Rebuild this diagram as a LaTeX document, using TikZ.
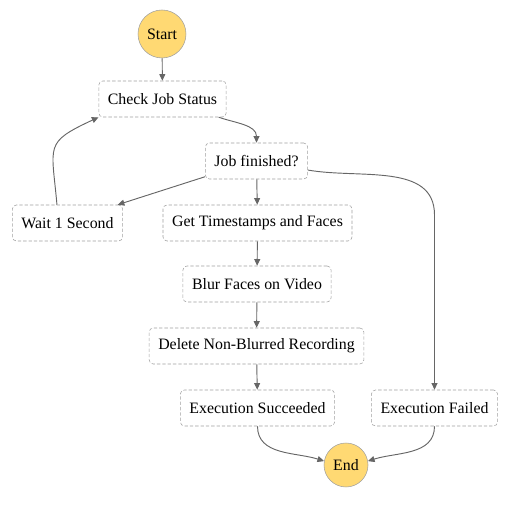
\documentclass[tikz,border=0pt]{standalone}
\usepackage{fontspec}
\setmainfont{Liberation Serif}
\newfontfamily\statefont{Liberation Serif}
\usetikzlibrary{arrows.meta}
\definecolor{stategold}{HTML}{FFD973}
\definecolor{stateline}{HTML}{A0A0A0}
\definecolor{flowgray}{HTML}{666666}
\begin{document}
\begin{tikzpicture}[x=0.75pt, y=0.75pt,
  every node/.style={font=\statefont\fontsize{11.9}{14}\selectfont},
  task/.style={draw=stateline, dash pattern=on 2.5pt off 1.5pt, rounded corners=3pt,
    fill=white, minimum height=27pt, inner xsep=6.8pt},
  terminal/.style={circle, draw=stateline, fill=stategold, inner sep=0pt},
  flow/.style={draw=flowgray, line width=0.7pt, -{Triangle[length=5pt,width=4.5pt]}}]
  \useasboundingbox (0,0) rectangle (509,505);
  % 节点
  \node[terminal, minimum size=36pt] (start) at (162,471) {Start};
  \node[task] (check) at (162.5,406) {Check Job Status};
  \node[task] (jobdone) at (256.5,344) {Job finished?};
  \node[task] (wait) at (67.5,282) {Wait 1 Second};
  \node[task] (gettime) at (257.5,282) {Get Timestamps and Faces};
  \node[task] (blur) at (257,221) {Blur Faces on Video};
  \node[task] (delnb) at (256.5,159) {Delete Non-Blurred Recording};
  \node[task] (succ) at (257.5,97) {Execution Succeeded};
  \node[task] (fail) at (434.5,97) {Execution Failed};
  \node[terminal, minimum size=33pt] (done) at (346,40) {End};
  \coordinate (failbend) at (434.5,290);
  % 连线
  \draw[flow] (start) -- (check);
  \draw[flow] (check.-18) to[out=-19, in=90] (jobdone.north);
  \draw[flow] (jobdone.197) -- (wait.20);
  \draw[flow] (wait.120) to[out=95, in=205, looseness=1.6] (check.south west);
  \draw[flow] (jobdone) -- (gettime);
  \draw[flow] (jobdone.-10) to[out=-10, in=90] (failbend) -- (fail.north);
  \draw[flow] (gettime) -- (blur);
  \draw[flow] (blur) -- (delnb);
  \draw[flow] (delnb) -- (succ);
  \draw[flow] (succ.south) to[out=-90, in=162] (done.170);
  \draw[flow] (fail.south) to[out=-90, in=18] (done.10);
\end{tikzpicture}
\end{document}
